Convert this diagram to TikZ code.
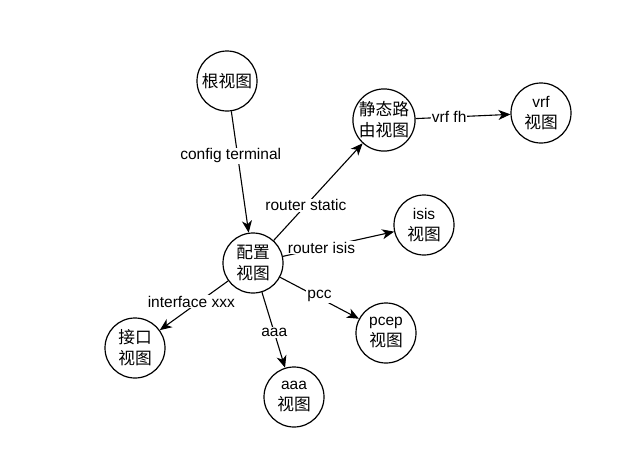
\documentclass[tikz,border=0pt]{standalone}
\usepackage{fontspec}
\setmainfont{Liberation Sans}
\newfontfamily\cjk[Scale=1.08]{Noto Sans CJK SC}
\usetikzlibrary{arrows.meta}

\begin{document}
\begin{tikzpicture}[x=1pt,y=-1pt,
    view/.style={circle,draw,line width=1.2pt,minimum size=60pt,inner sep=0pt,align=center,font=\fontsize{15.5}{21}\selectfont},
    cmd/.style={fill=white,inner sep=1pt,font=\fontsize{15.5}{18}\selectfont},
    every edge/.style={draw,line width=1.1pt,-{Stealth[length=12pt,width=10pt,inset=3.5pt]}}]
    \useasboundingbox (0,0) rectangle (619,448);
    \node[view] (root)   at (227,81)  {\cjk 根视图};
    \node[view] (conf)   at (253,263) {\cjk 配置\\\cjk 视图};
    \node[view] (static) at (384,120) {\cjk 静态路\\\cjk 由视图};
    \node[view] (vrf)    at (541,113) {vrf\\\cjk 视图};
    \node[view] (isis)   at (424,225) {isis\\\cjk 视图};
    \node[view] (pcep)   at (386,333) {pcep\\\cjk 视图};
    \node[view] (intf)   at (135,348) {\cjk 接口\\\cjk 视图};
    \node[view] (aaa)    at (294,397) {aaa\\\cjk 视图};
    \draw (root) edge node[cmd,pos=0.367,xshift=-7pt] {config terminal} (conf);
    \draw (conf) edge node[cmd,pos=0.362] {router static} (static);
    \draw (conf) edge node[cmd,pos=0.347] {router isis} (isis);
    \draw (conf) edge node[cmd,pos=0.5,yshift=2pt] {pcc} (pcep);
    \draw (conf) edge node[cmd,pos=0.54,yshift=6pt] {interface xxx} (intf);
    \draw (conf) edge node[cmd,pos=0.535] {aaa} (aaa);
    \draw (static) edge node[cmd,pos=0.354] {vrf fh} (vrf);
\end{tikzpicture}
\end{document}
